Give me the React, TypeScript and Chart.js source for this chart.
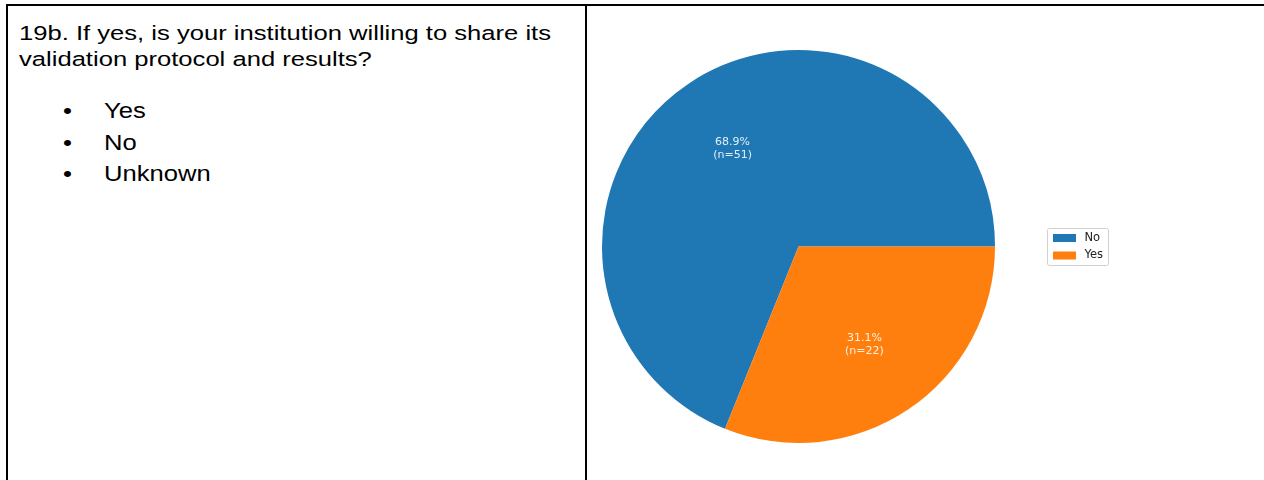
import React, { useEffect, useRef } from 'react';
import { Chart, registerables } from 'chart.js';

Chart.register(...registerables);

// ---- data ----
const categories = ['No', 'Yes'];
const percentages = [68.9, 31.1];
const counts = [51, 22];
const sliceColors = ['#1f77b4', '#ff7f0e'];
const questionLines = [
  '19b. If yes, is your institution willing to share its',
  'validation protocol and results?',
];
const answerOptions = ['Yes', 'No', 'Unknown'];

// ---- layout ----
const CANVAS_LEFT = 587;
const CANVAS_TOP = 6;
const CANVAS_W = 677;
const CANVAS_H = 474;
const TEXT_FONT = '"Liberation Sans", Arial, sans-serif';
const FS = 25.6;
const SQUISH_Q = 0.8;
const SQUISH_A = 0.86;
const questionBaselines = [40, 66];
const answerBaselines = [118.5, 150, 181.5];

export default function App() {
  const ref = useRef<HTMLCanvasElement>(null);

  useEffect(() => {
    if (!ref.current) return;
    const total = percentages.reduce((a, b) => a + b, 0);

    const labelPlugin = {
      id: 'pieLabels',
      afterDatasetsDraw(chart: any) {
        const ctx = chart.ctx;
        const meta = chart.getDatasetMeta(0);
        ctx.save();
        ctx.font = '11px "DejaVu Sans"';
        ctx.fillStyle = 'rgba(255,255,255,0.88)';
        ctx.textAlign = 'center';
        ctx.textBaseline = 'middle';
        meta.data.forEach((arc: any, i: number) => {
          const p = arc.getProps(['x', 'y', 'startAngle', 'endAngle', 'outerRadius'], true);
          const mid = (p.startAngle + p.endAngle) / 2;
          const r = p.outerRadius * 0.6;
          const cx = p.x + Math.cos(mid) * r;
          const cy = p.y + Math.sin(mid) * r;
          ctx.fillText(`${percentages[i].toFixed(1)}%`, cx, cy - 6.5);
          ctx.fillText(`(n=${counts[i]})`, cx, cy + 6.5);
        });
        ctx.restore();
      },
    };

    const legendPlugin = {
      id: 'mplLegend',
      afterDraw(chart: any) {
        const ctx = chart.ctx;
        const x0 = 1047.5 - CANVAS_LEFT;
        const y0 = 228.5 - CANVAS_TOP;
        const w = 61;
        const h = 37;
        ctx.save();
        ctx.fillStyle = 'rgba(255,255,255,0.8)';
        ctx.strokeStyle = '#d0d0d0';
        ctx.lineWidth = 1;
        ctx.beginPath();
        (ctx as any).roundRect(x0, y0, w, h, 2);
        ctx.fill();
        ctx.stroke();
        ctx.font = '11.5px "DejaVu Sans"';
        ctx.textBaseline = 'middle';
        ctx.textAlign = 'left';
        const labels: string[] = chart.data.labels;
        const bg: string[] = chart.data.datasets[0].backgroundColor;
        labels.forEach((lab, i) => {
          const cy = y0 + 9.5 + i * 17.5;
          ctx.fillStyle = bg[i];
          ctx.fillRect(x0 + 5.5, cy - 4, 23, 8);
          ctx.fillStyle = '#222';
          ctx.fillText(lab, x0 + 37, cy);
        });
        ctx.restore();
      },
    };

    const chart = new Chart(ref.current, {
      type: 'pie',
      data: {
        labels: categories,
        datasets: [
          {
            data: percentages,
            backgroundColor: sliceColors,
            borderWidth: 0,
          },
        ],
      },
      options: {
        animation: false,
        responsive: false,
        devicePixelRatio: 1,
        rotation: 90 + (360 * percentages[1]) / total,
        layout: { padding: { left: 15, top: 44, right: 269, bottom: 37 } },
        plugins: {
          legend: { display: false },
          tooltip: { enabled: false },
        },
      },
      plugins: [labelPlugin, legendPlugin],
    });
    return () => chart.destroy();
  }, []);

  const LH = FS * 1.117;
  const baseInBox = 0.905 * FS;
  const textStyle = (left: number, baseline: number, squish: number): React.CSSProperties => ({
    position: 'absolute',
    left,
    top: baseline - baseInBox,
    fontSize: FS,
    lineHeight: `${LH}px`,
    whiteSpace: 'nowrap',
    transform: `scaleY(${squish})`,
    transformOrigin: `0px ${baseInBox}px`,
  });

  return (
    <div
      style={{
        position: 'absolute',
        left: 0,
        top: 0,
        width: 1264,
        height: 480,
        background: '#fff',
        overflow: 'hidden',
        fontFamily: TEXT_FONT,
        color: '#000',
      }}
    >
      {/* table borders */}
      <div style={{ position: 'absolute', left: 6, top: 4, width: 1258, height: 2, background: '#000' }} />
      <div style={{ position: 'absolute', left: 6, top: 4, width: 2, height: 476, background: '#000' }} />
      <div style={{ position: 'absolute', left: 585, top: 4, width: 2, height: 476, background: '#000' }} />

      {questionLines.map((t, i) => (
        <div key={'q' + i} style={textStyle(19, questionBaselines[i], SQUISH_Q)}>
          {t}
        </div>
      ))}
      {answerOptions.map((t, i) => (
        <React.Fragment key={'a' + i}>
          <div style={textStyle(63, answerBaselines[i], SQUISH_A)}>•</div>
          <div style={textStyle(104, answerBaselines[i], SQUISH_A)}>{t}</div>
        </React.Fragment>
      ))}

      <canvas
        ref={ref}
        width={CANVAS_W}
        height={CANVAS_H}
        style={{ position: 'absolute', left: CANVAS_LEFT, top: CANVAS_TOP, width: CANVAS_W, height: CANVAS_H }}
      />
    </div>
  );
}
